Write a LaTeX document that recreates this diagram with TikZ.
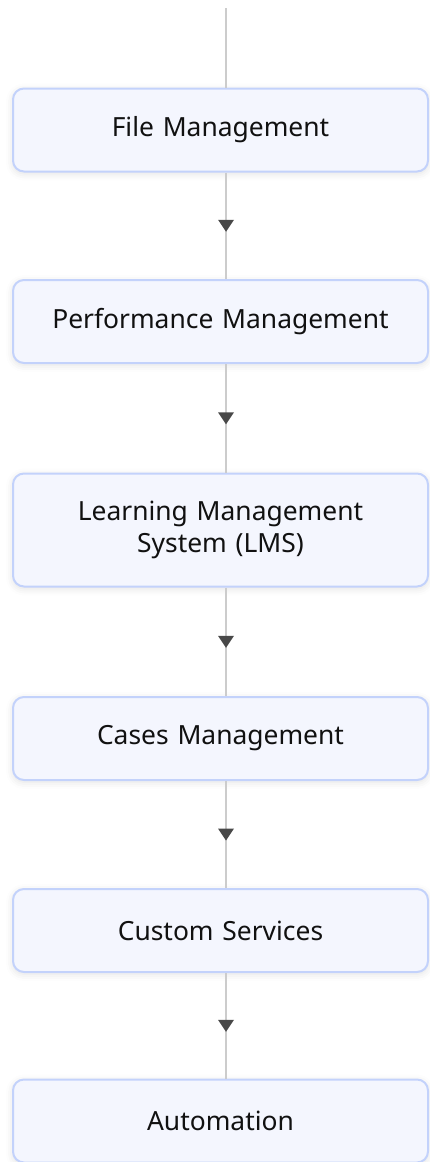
\documentclass[tikz,border=0pt]{standalone}
\usepackage{fontspec}
\setmainfont{Noto Sans}
\usetikzlibrary{calc,shadows.blur}
\definecolor{boxfill}{HTML}{F4F6FE}
\definecolor{boxline}{HTML}{C3D2FB}
\definecolor{flowline}{HTML}{CCCCCC}
\definecolor{tipcol}{HTML}{484848}
\definecolor{txt}{HTML}{111111}
\begin{document}
\begin{tikzpicture}[x=1pt,y=-1pt,
  stagebox/.style={draw=boxline,line width=2pt,fill=boxfill,rounded corners=11pt,
    minimum width=415pt,text width=400pt,align=center,text=txt,
    font=\fontsize{26.4}{32}\selectfont,
    blur shadow={shadow xshift=0pt,shadow yshift=-2pt,shadow blur radius=7pt,shadow opacity=12}},
  flow/.style={draw=flowline,line width=2pt},
  tip/.style={fill=tipcol}]
\useasboundingbox (0,0) rectangle (430,1162);
\coordinate (top) at (226,8);
% the six stages
\node[stagebox,minimum height=83pt] (s1) at (220.5,130) {File Management};
\node[stagebox,minimum height=83pt] (s2) at (220.5,321.5) {Performance Management};
\node[stagebox,minimum height=113pt] (s3) at (220.5,530) {Learning Management\\System (LMS)};
\node[stagebox,minimum height=83pt] (s4) at (220.5,738.5) {Cases Management};
\node[stagebox,minimum height=83pt] (s5) at (220.5,930.5) {Custom Services};
\node[stagebox,minimum height=83pt] (s6) at (220.5,1121) {Automation};
% connector lines along the spine, with a tip halfway down each gap
\draw[flow] (top) -- (s1.north -| top);
\foreach \a/\b in {s1/s2,s2/s3,s3/s4,s4/s5,s5/s6}{
  \draw[flow] (\a.south -| top) -- (\b.north -| top);
  \coordinate (m) at ($(\a.south -| top)!0.5!(\b.north -| top)$);
  \fill[tip] ($(m)+(-8,-6)$) -- ($(m)+(8,-6)$) -- ($(m)+(0,6)$) -- cycle;
}
\end{tikzpicture}
\end{document}
